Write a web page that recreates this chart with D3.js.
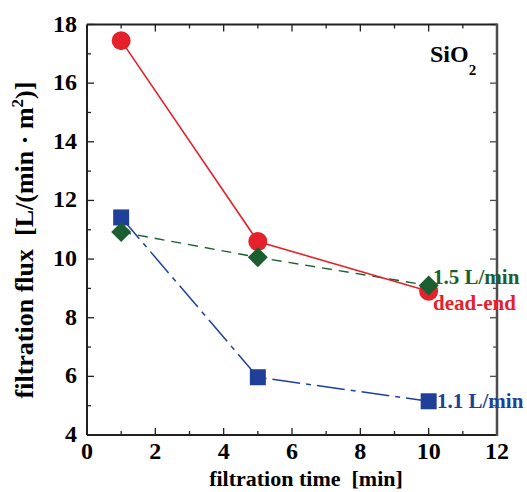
<!DOCTYPE html>
<html>
<head>
<meta charset="utf-8">
<script src="https://cdn.jsdelivr.net/npm/d3@7"></script>
<style>
  html, body { margin: 0; padding: 0; background: #fff; }
  svg { display: block; }
</style>
</head>
<body>
<svg id="chart" width="527" height="492"></svg>
<script>
// Filtration time in minutes
const times = [1, 5, 10];
// Filtration flux, L/(min·m²)
const deadEnd = [17.45, 10.6, 8.9];
const flow15 = [10.92, 10.06, 9.1];
const flow11 = [11.42, 5.97, 5.15];

const xTicks = [0, 2, 4, 6, 8, 10, 12];
const yTicks = [4, 6, 8, 10, 12, 14, 16, 18];

const seriesNames = ["dead-end", "1.5 L/min", "1.1 L/min"];

const serif = "'Liberation Serif', 'Times New Roman', serif";
const svg = d3.select("#chart")
  .attr("font-family", serif)
  .attr("font-weight", "bold");

const plotL = 87, plotR = 497, plotT = 24.5, plotB = 435;

const x = d3.scaleLinear().domain([0, 12]).range([plotL, plotR]);
const y = d3.scaleLinear().domain([4, 18]).range([plotB, plotT]);

const axisColor = "#231f20";
const rightColor = "#4d4d4f";

// Frame with inward ticks on all four sides (major every 2, minor every 1)
const g = svg.append("g");
const minorX = d3.range(0, 12.01, 1);
const minorY = d3.range(4, 18.01, 1);
const tickLen = v => (Math.round(v) % 2 === 0 ? 7 : 4);

minorX.forEach(v => {
  const L = tickLen(v);
  g.append("line").attr("x1", x(v)).attr("x2", x(v)).attr("y1", plotB).attr("y2", plotB - L)
    .attr("stroke", axisColor).attr("stroke-width", 1.3);
  g.append("line").attr("x1", x(v)).attr("x2", x(v)).attr("y1", plotT).attr("y2", plotT + L)
    .attr("stroke", axisColor).attr("stroke-width", 1.3);
});
minorY.forEach(v => {
  const L = tickLen(v);
  g.append("line").attr("x1", plotL).attr("x2", plotL + L).attr("y1", y(v)).attr("y2", y(v))
    .attr("stroke", axisColor).attr("stroke-width", 1.3);
  g.append("line").attr("x1", plotR).attr("x2", plotR - L).attr("y1", y(v)).attr("y2", y(v))
    .attr("stroke", rightColor).attr("stroke-width", 1.3);
});

g.append("line").attr("x1", plotL).attr("x2", plotR).attr("y1", plotT).attr("y2", plotT).attr("stroke", axisColor).attr("stroke-width", 2);
g.append("line").attr("x1", plotL).attr("x2", plotR).attr("y1", plotB).attr("y2", plotB).attr("stroke", axisColor).attr("stroke-width", 2);
g.append("line").attr("x1", plotL).attr("x2", plotL).attr("y1", plotT).attr("y2", plotB).attr("stroke", axisColor).attr("stroke-width", 2);
g.append("line").attr("x1", plotR).attr("x2", plotR).attr("y1", plotT - 1).attr("y2", plotB + 1).attr("stroke", rightColor).attr("stroke-width", 2.5);

// Tick labels
g.selectAll(".xt").data(xTicks).enter().append("text")
  .attr("x", d => x(d)).attr("y", plotB + 24).attr("text-anchor", "middle")
  .attr("font-family", serif).attr("font-size", 24).attr("fill", "#000").text(d => d);
g.selectAll(".yt").data(yTicks).enter().append("text")
  .attr("x", plotL - 10).attr("y", d => y(d) + 7).attr("text-anchor", "end")
  .attr("font-family", serif).attr("font-size", 24).attr("fill", "#000").text(d => d);

// Axis titles
svg.append("text").attr("x", 306).attr("y", 486).attr("text-anchor", "middle")
  .attr("font-family", serif).attr("font-size", 22).attr("fill", "#000").attr("xml:space", "preserve")
  .text("filtration time  [min]");

const yt = svg.append("text").attr("transform", "translate(33,240) rotate(-90)")
  .attr("font-family", serif).attr("text-anchor", "middle").attr("font-size", 26).attr("fill", "#000")
  .attr("xml:space", "preserve");
yt.append("tspan").text("filtration flux  [L/(min · m");
yt.append("tspan").attr("dy", -10).attr("font-size", 17).text("2");
yt.append("tspan").attr("dy", 10).text(")]");

// Sample label
const s = svg.append("text").attr("x", 430).attr("y", 62).attr("font-family", serif)
  .attr("font-size", 24).attr("fill", "#000");
s.append("tspan").text("SiO");
s.append("tspan").attr("dy", 13).attr("font-size", 15).text("2");

const colors = { red: "#e4222b", green: "#1b5e2f", blue: "#1f3f98" };

const line = d3.line().x(d => x(d[0])).y(d => y(d[1]));
const pts = arr => times.map((t, i) => [t, arr[i]]);

// Connecting lines
svg.append("path").datum(pts(flow15)).attr("d", line).attr("fill", "none")
  .attr("stroke", colors.green).attr("stroke-width", 1.4).attr("stroke-dasharray", "10,7");
svg.append("path").datum(pts(flow11)).attr("d", line).attr("fill", "none")
  .attr("stroke", colors.blue).attr("stroke-width", 1.5).attr("stroke-dasharray", "28,6,5,6");
svg.append("path").datum(pts(deadEnd)).attr("d", line).attr("fill", "none")
  .attr("stroke", colors.red).attr("stroke-width", 1.6);

// Markers
svg.selectAll(".sq").data(pts(flow11)).enter().append("rect")
  .attr("x", d => x(d[0]) - 8).attr("y", d => y(d[1]) - 8).attr("width", 16).attr("height", 16)
  .attr("fill", colors.blue);
svg.selectAll(".ci").data(pts(deadEnd)).enter().append("circle")
  .attr("cx", d => x(d[0])).attr("cy", d => y(d[1])).attr("r", 9.5).attr("fill", colors.red);
svg.selectAll(".di").data(pts(flow15)).enter().append("path")
  .attr("d", d => { const cx = x(d[0]), cy = y(d[1]), r = 10; return `M${cx},${cy - r}L${cx + r},${cy}L${cx},${cy + r}L${cx - r},${cy}Z`; })
  .attr("fill", colors.green);

// Series labels
svg.append("text").attr("x", 433).attr("y", 284).attr("font-family", serif).attr("font-size", 21)
  .attr("fill", colors.green).text(seriesNames[1]);
svg.append("text").attr("x", 433).attr("y", 310).attr("font-family", serif).attr("font-size", 21)
  .attr("fill", colors.red).text(seriesNames[0]);
svg.append("text").attr("x", 437).attr("y", 408).attr("font-family", serif).attr("font-size", 21)
  .attr("fill", colors.blue).text(seriesNames[2]);
</script>
</body>
</html>
